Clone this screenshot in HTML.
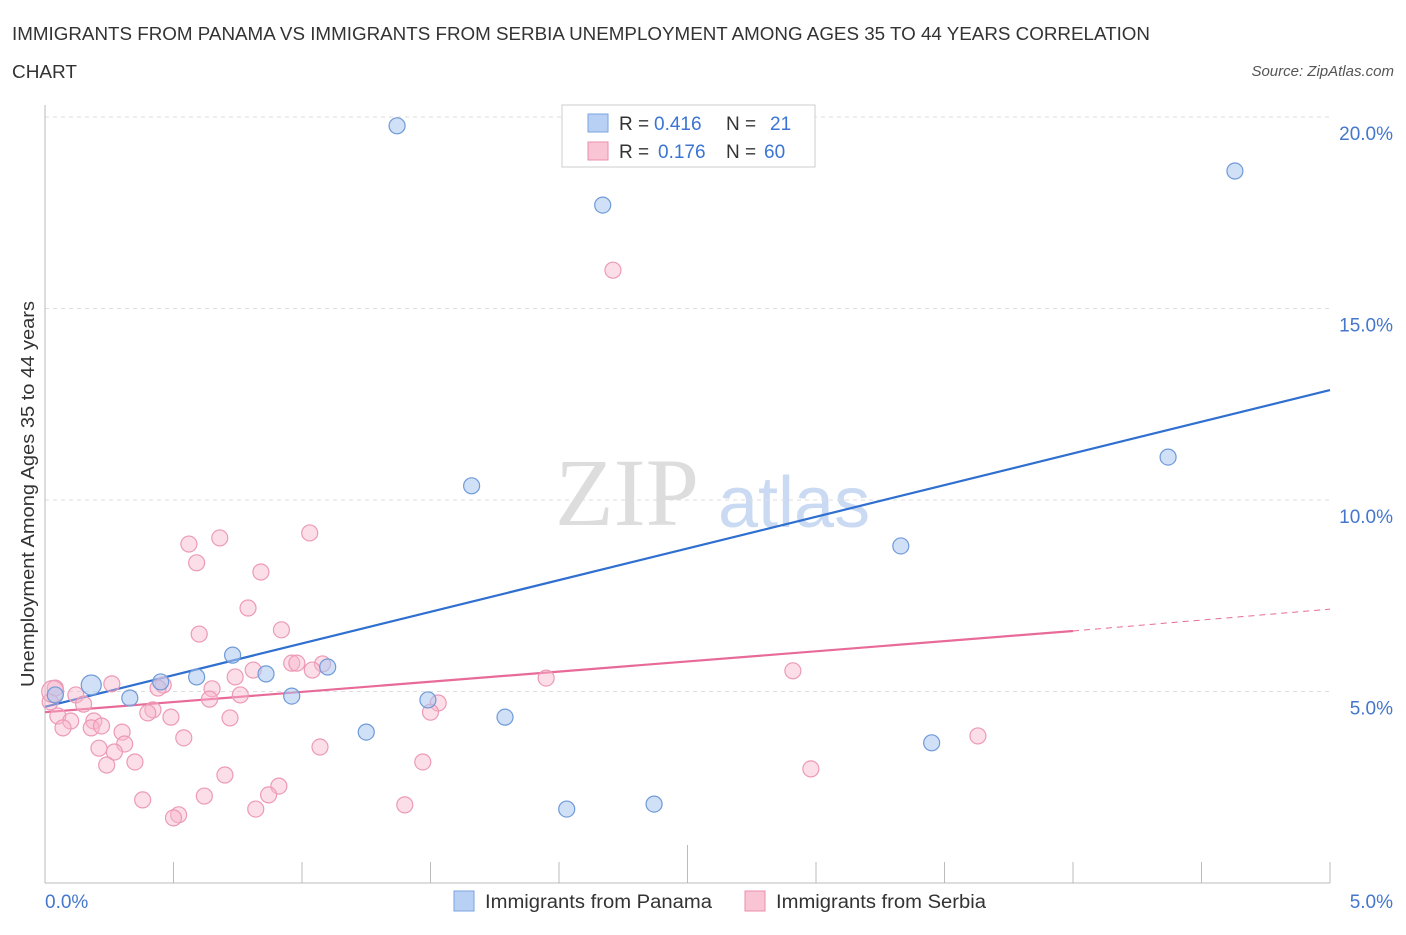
<!DOCTYPE html>
<html><head><meta charset="utf-8"><style>
body{margin:0;background:#fff;font-family:"Liberation Sans",sans-serif;}
</style></head><body>
<svg width="1406" height="930" xmlns="http://www.w3.org/2000/svg" font-family="Liberation Sans, sans-serif">
<text x="12" y="40" font-size="18" fill="#333" textLength="1138" lengthAdjust="spacingAndGlyphs">IMMIGRANTS FROM PANAMA VS IMMIGRANTS FROM SERBIA UNEMPLOYMENT AMONG AGES 35 TO 44 YEARS CORRELATION</text>
<text x="12" y="78" font-size="18" fill="#333" textLength="65" lengthAdjust="spacingAndGlyphs">CHART</text>
<text x="1394" y="76" font-size="15" fill="#555" text-anchor="end" font-style="italic">Source: ZipAtlas.com</text>
<text x="555" y="525" font-size="96" fill="#ddd" font-family="Liberation Serif, serif">ZIP</text>
<text x="718" y="527" font-size="72" fill="#c9daf2">atlas</text>
<g id="grid"></g><g id="axes"></g><g id="lines"></g><g id="pts"></g>
<text transform="translate(34,494) rotate(-90)" font-size="18" fill="#333" text-anchor="middle" textLength="386" lengthAdjust="spacingAndGlyphs">Unemployment Among Ages 35 to 44 years</text>
<text x="45" y="908" font-size="19" fill="#4477cc">0.0%</text>
<text x="1393" y="908" font-size="19" fill="#4477cc" text-anchor="end">5.0%</text>
<g>
<rect x="562" y="105" width="253" height="62" fill="#fff" stroke="#ccc"/>
<rect x="588" y="114" width="20" height="18" fill="#b8d0f4" stroke="#7aa3e0"/>
<rect x="588" y="142" width="20" height="18" fill="#f9c4d4" stroke="#eb8fae"/>
<text x="619" y="130" font-size="19" fill="#333">R =</text>
<text x="654" y="130" font-size="19" fill="#3b74d4">0.416</text>
<text x="726" y="130" font-size="19" fill="#333">N =</text>
<text x="770" y="130" font-size="19" fill="#3b74d4">21</text>
<text x="619" y="158" font-size="19" fill="#333">R =</text>
<text x="658" y="158" font-size="19" fill="#3b74d4">0.176</text>
<text x="726" y="158" font-size="19" fill="#333">N =</text>
<text x="764" y="158" font-size="19" fill="#3b74d4">60</text>
</g>
<g>
<rect x="454" y="891" width="20" height="20" fill="#b8d0f4" stroke="#7aa3e0"/>
<text x="485" y="908" font-size="19" fill="#333" textLength="227" lengthAdjust="spacingAndGlyphs">Immigrants from Panama</text>
<rect x="745" y="891" width="20" height="20" fill="#f9c4d4" stroke="#eb8fae"/>
<text x="776" y="908" font-size="19" fill="#333" textLength="210" lengthAdjust="spacingAndGlyphs">Immigrants from Serbia</text>
</g>
</svg>
<script>
const yTicks=[5,10,15,20];
const xTicks=[0,0.5,1,1.5,2,2.5,3,3.5,4,4.5,5];
const panamaX=[1.37,2.17,4.63,4.37,1.66,3.33,0.73,0.18,0.04,0.33,0.45,0.59,0.86,1.10,0.96,1.49,1.25,1.79,3.45,2.03,2.37];
const panamaY=[19.77,17.70,18.59,11.12,10.37,8.80,5.95,5.17,4.91,4.83,5.25,5.38,5.46,5.64,4.88,4.78,3.94,4.33,3.66,1.93,2.06];
const serbiaX=[2.21,1.03,.68,.56,.59,.84,.79,.92,.60,.96,1.08,.98,.81,1.04,.74,2.91,1.95,.26,.46,.44,.65,.04,.12,.76,.64,.15,.02,1.53,1.50,.42,.40,.49,.72,.05,.10,.19,.07,.18,.30,3.63,.54,.31,.21,.27,1.07,.24,.35,1.47,.70,2.98,.91,.87,.62,.38,1.40,.82,.52,.50,.03,.22];
const serbiaY=[16.0,9.14,9.01,8.85,8.36,8.12,7.18,6.61,6.50,5.74,5.72,5.74,5.56,5.56,5.38,5.54,5.35,5.20,5.17,5.09,5.07,5.09,4.91,4.91,4.80,4.67,4.73,4.70,4.46,4.52,4.44,4.33,4.31,4.36,4.23,4.23,4.05,4.05,3.94,3.84,3.79,3.63,3.52,3.42,3.55,3.08,3.16,3.16,2.82,2.98,2.53,2.30,2.27,2.17,2.04,1.93,1.78,1.70,5.00,4.10];
const panamaTrend=[4.6,12.87];
const serbiaTrend=[4.46,6.58,7.15];
const serbiaSolidEnd=4.0;
const X=v=>45+v/5*1285, Y=v=>883-v*38.3;
const NS='http://www.w3.org/2000/svg';
function mk(p,t,a){const e=document.createElementNS(NS,t);for(const k in a)e.setAttribute(k,a[k]);document.getElementById(p).appendChild(e);return e;}
yTicks.forEach(t=>{
 const l=mk('grid','line',{x1:45,x2:1330,y1:Y(t),y2:Y(t),stroke:'#ddd','stroke-dasharray':'4,4'});
 
 
 const tx=mk('grid','text',{x:1393,y:Y(t)+23,'font-size':19,fill:'#4477cc','text-anchor':'end'});
 tx.textContent=t.toFixed(1)+'%';
 
 
});
const ax=mk('axes','line',{x1:45,x2:1330,y1:883,y2:883,stroke:'#bbb'});


const ay=mk('axes','line',{x1:45,x2:45,y1:105,y2:883,stroke:'#bbb'});


xTicks.forEach((t,i)=>{
 const l=mk('axes','line',{x1:X(t),x2:X(t),y1:i==5?845:862,y2:883,stroke:'#bbb'});
 
 
});
let l=mk('lines','line',{x1:X(0),y1:Y(panamaTrend[0]),x2:X(5),y2:Y(panamaTrend[1]),stroke:'#2f6fd0','stroke-width':2.2});


l=mk('lines','line',{x1:X(0),y1:Y(serbiaTrend[0]),x2:X(serbiaSolidEnd),y2:Y(serbiaTrend[1]),stroke:'#e86a98','stroke-width':2.2});


l=mk('lines','line',{x1:X(serbiaSolidEnd),y1:Y(serbiaTrend[1]),x2:X(5),y2:Y(serbiaTrend[2]),stroke:'#e86a98','stroke-width':1,'stroke-dasharray':'6,5'});


serbiaX.forEach((v,i)=>{
 const c=mk('pts','circle',{cx:X(v),cy:Y(serbiaY[i]),r:i==58?11:8,fill:'rgba(248,182,203,0.45)',stroke:'#ec9ab6','stroke-width':1.2});
 
 
});
panamaX.forEach((v,i)=>{
 const c=mk('pts','circle',{cx:X(v),cy:Y(panamaY[i]),r:i==7?10:8,fill:'rgba(170,198,240,0.55)',stroke:'#6f9ad8','stroke-width':1.2});
 
 
});
</script>
</body></html>
